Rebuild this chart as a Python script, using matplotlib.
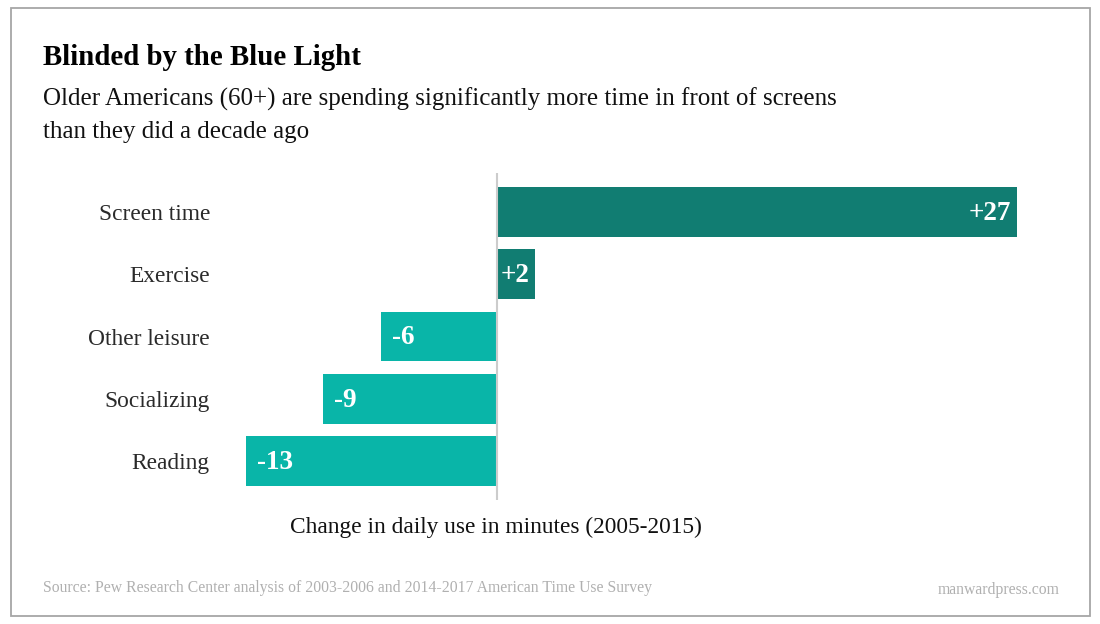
import matplotlib
matplotlib.use('Agg')
import matplotlib.pyplot as plt
from matplotlib.patches import Rectangle

categories = ["Screen time", "Exercise", "Other leisure", "Socializing", "Reading"]
changes = [27, 2, -6, -9, -13]
labels = ["+27", "+2", "-6", "-9", "-13"]

title = "Blinded by the Blue Light"
subtitle_lines = ["Older Americans (60+) are spending significantly more time in front of screens",
                  "than they did a decade ago"]
xlabel = "Change in daily use in minutes (2005-2015)"
source = "Source: Pew Research Center analysis of 2003-2006 and 2014-2017 American Time Use Survey"
site = "manwardpress.com"

DARK = '#117d72'
LIGHT = '#09b5a8'
W, H = 1100, 624

plt.rcParams['font.family'] = ['Liberation Serif', 'DejaVu Serif']

fig = plt.figure(figsize=(W / 100, H / 100), dpi=100)

def px(x, y):
    return x / W, 1 - y / H

# frame around the whole graphic
fig.patches.append(Rectangle(px(11, 616), 1079 / W, 608 / H, transform=fig.transFigure,
                             fill=False, edgecolor='#a6a6a6', linewidth=1.3))

ax = fig.add_axes([246 / W, 1 - 500 / H, (1017 - 246) / W, (500 - 173) / H])
ypos = list(range(len(categories)))
colors = [DARK if v > 0 else LIGHT for v in changes]
ax.barh(ypos, changes, height=0.8, color=colors)
ax.set_xlim(-13, 27)
ax.set_ylim(len(categories) - 1 + 0.62, -0.62)
ax.axvline(0, color='#cccccc', linewidth=1.5, zorder=1)

for y, v, lab in zip(ypos, changes, labels):
    if v > 0:
        ax.annotate(lab, (v, y), xytext=(-4, -1), textcoords='offset points',
                    ha='right', va='center', color='white', fontsize=19.5, fontweight='bold')
    else:
        ax.annotate(lab, (v, y), xytext=(8, -1), textcoords='offset points',
                    ha='left', va='center', color='white', fontsize=19.5, fontweight='bold')

ax.set_yticks(ypos)
ax.set_yticklabels(categories, fontsize=16.8, color='#2a2a2a')
ax.tick_params(axis='y', length=0, pad=26)
ax.set_xticks([])
for s in ax.spines.values():
    s.set_visible(False)

fig.text(*px(43, 65), title, fontsize=20.8, fontweight='bold', color='black', va='baseline')
for i, line in enumerate(subtitle_lines):
    fig.text(*px(43, 106 + 32 * i), line, fontsize=18, color='#111111', va='baseline')
fig.text(*px(496, 527), xlabel, fontsize=16.8, color='#111111', ha='center', va='center')
fig.text(*px(43, 588), source, fontsize=11.3, color='#b0b0b0', va='center')
fig.text(*px(1060, 590), site, fontsize=11.3, color='#b0b0b0', ha='right', va='center')

fig.savefig('out.png', dpi=100)
